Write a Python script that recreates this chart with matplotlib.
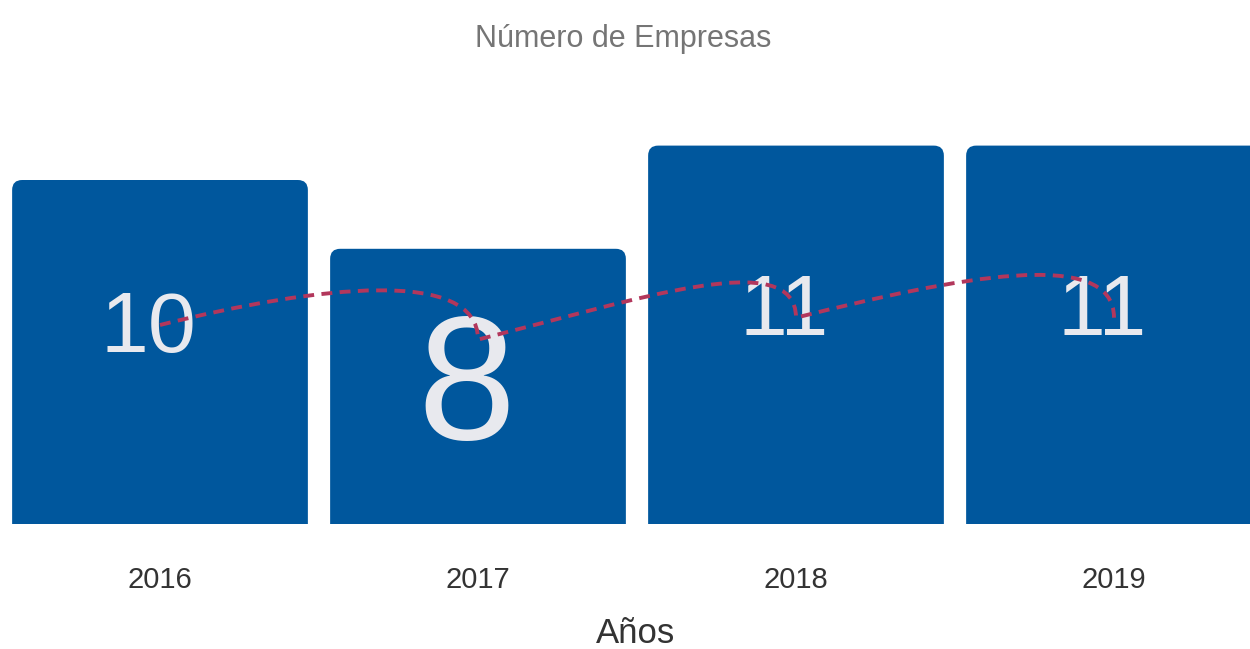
import matplotlib.pyplot as plt
import numpy as np
from matplotlib.patches import FancyBboxPatch, PathPatch
from matplotlib.path import Path

plt.rcParams['font.family'] = ['Liberation Sans', 'DejaVu Sans']

years = ['2016', '2017', '2018', '2019']
empresas = [10, 8, 11, 11]

bar_color = '#00579D'
line_color = '#B2375C'
label_sizes = [62, 127, 62, 62]
label_base = [0.5, 0.31, 0.5, 0.5]   # baseline of the label as a fraction of bar height

W, H = 1250, 649
fig = plt.figure(figsize=(W / 100, H / 100), dpi=100)
fig.patch.set_facecolor('white')

# axes fill the width, baseline at 524 px, top at 100 px
ax = fig.add_axes([0, 1 - 524 / H, 1, 424 / H])
px_x = 318.0           # pixels per category
px_y = 34.4            # pixels per unit
ax.set_xlim(-160 / px_x, (W - 160) / px_x)
ax.set_ylim(0, 424 / px_y)

x = np.arange(len(years))
width = 0.93
r = 10 / px_x
for xi, v in zip(x, empresas):
    box = FancyBboxPatch((xi - width / 2, -1), width, v + 1,
                         boxstyle=f'round,pad=0,rounding_size={r}',
                         mutation_aspect=px_x / px_y,
                         facecolor=bar_color, edgecolor='none')
    ax.add_patch(box)

dx_lab = -12 / px_x
for xi, v, s, f in zip(x, empresas, label_sizes, label_base):
    ax.text(xi + dx_lab, v * f, str(v), ha='center', va='baseline',
            fontsize=s, color='#E8E9EE')

ax.set_xticks(x)
ax.set_xticklabels(years, fontsize=21, color='#333333')
ax.tick_params(axis='x', length=0, pad=30)
ax.set_yticks([])
for sp in ax.spines.values():
    sp.set_visible(False)

# secondary axis for the dashed curve
ax2 = ax.twinx()
k = 7.3                 # pixels per unit on the secondary scale
ax2.set_ylim((398 - 524) / k, (398 - 100) / k)
ax2.set_yticks([])
for sp in ax2.spines.values():
    sp.set_visible(False)

up1, up2 = 40 / k, 72 / k
verts = [(x[0], empresas[0])]
codes = [Path.MOVETO]
for i in range(len(x) - 1):
    x0, y0 = x[i], empresas[i]
    x1, y1 = x[i + 1], empresas[i + 1]
    verts += [(x0 + 0.5 * (x1 - x0), y0 + up1), (x1, y1 + up2), (x1, y1)]
    codes += [Path.CURVE4] * 3
curve = PathPatch(Path(verts, codes), facecolor='none', edgecolor=line_color,
                  linewidth=2.8, linestyle=(0, (2.8, 1.9)), capstyle='butt')
ax2.add_patch(curve)

fig.text(623 / W, 1 - 47 / H, 'Número de Empresas', ha='center', va='baseline',
         fontsize=22, color='#757575')
fig.text(636 / W, 1 - 643 / H, 'Años', ha='center', va='baseline',
         fontsize=25, color='#333333')

fig.savefig('out.png', dpi=100, facecolor='white')
